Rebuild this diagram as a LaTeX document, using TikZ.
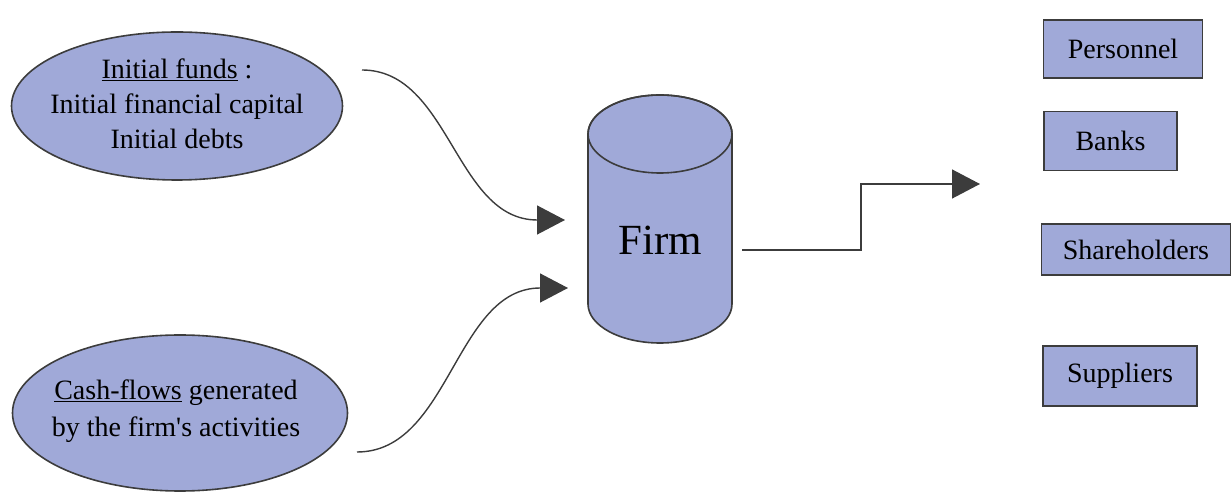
\documentclass[tikz,border=0pt]{standalone}
\usepackage{fontspec}
\setmainfont{Liberation Serif}
\usetikzlibrary{shapes.geometric,arrows.meta}
\definecolor{boxfill}{RGB}{160,169,216}
\definecolor{edge}{RGB}{60,60,60}
\tikzset{
  x=1pt,y=1pt,
  blob/.style={ellipse,draw=edge,line width=1.6pt,fill=boxfill,inner sep=0pt},
  blobtext/.style={align=center,inner sep=0pt,font=\fontsize{28}{35}\selectfont},
  party/.style={rectangle,draw=edge,line width=1.8pt,fill=boxfill,inner sep=0pt,font=\fontsize{28}{34}\selectfont},
  flow/.style={draw=edge,line width=1.4pt,-{Triangle[length=28pt,width=29pt]}}
}
\begin{document}
\begin{tikzpicture}
\useasboundingbox (0,0) rectangle (1232,495);
% source ellipses
\node[blob,minimum width=331pt,minimum height=148pt] (e1) at (177,389) {};
\node[blobtext] (e1t) at (177,391)
  {\underline{Initial funds} :\\Initial financial capital\\Initial debts};
\node[blob,minimum width=335pt,minimum height=156pt] (e2) at (180,82) {};
\node[blobtext,font=\fontsize{28}{37}\selectfont] (e2t) at (176,84)
  {\underline{Cash-flows} generated\\by the firm\textquotesingle s activities};
% firm cylinder
\draw[edge,line width=1.6pt,fill=boxfill] (588,361) -- (588,191)
  arc[start angle=180,end angle=360,x radius=72,y radius=39] -- (732,361)
  arc[start angle=0,end angle=180,x radius=72,y radius=39] -- cycle;
\draw[edge,line width=1.6pt] (660,361) ellipse[x radius=72,y radius=39];
\node[font=\fontsize{43}{50}\selectfont] (firm) at (660,255) {Firm};
% stakeholder boxes
\node[party,minimum width=159pt,minimum height=58pt] (pers) at (1123,446) {Personnel};
\node[party,minimum width=133pt,minimum height=59pt] (bank) at (1110.5,354) {Banks};
\node[party,minimum width=189pt,minimum height=51pt] (share) at (1136,245.5) {Shareholders};
\node[party,minimum width=154pt,minimum height=60pt] (supp) at (1120,119) {Suppliers};
% connector end points
\coordinate (s1) at (362,425);
\coordinate (t1) at (565,275);
\coordinate (s2) at (357,43);
\coordinate (t2) at (568,207);
\coordinate (s3) at (742,245);
\coordinate (k3) at (861,245);
\coordinate (t3) at (980,311);
\draw[flow] (s1) .. controls (450,425) and (455,275) .. (t1);
\draw[flow] (s2) .. controls (450,43) and (455,207) .. (t2);
\draw[flow] (s3) -- (k3) |- (t3);
\end{tikzpicture}
\end{document}
